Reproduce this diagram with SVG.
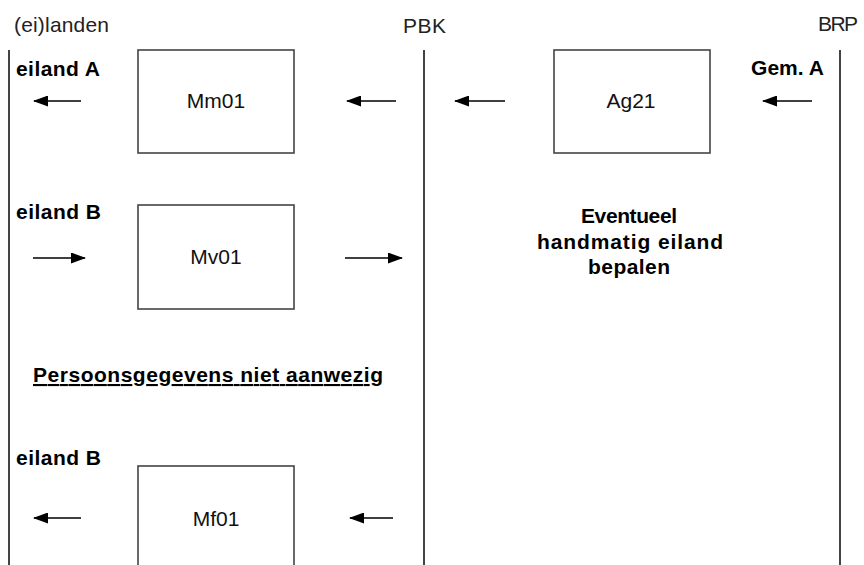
<svg xmlns="http://www.w3.org/2000/svg" width="864" height="565" viewBox="0 0 864 565">
<defs>
<style>
.lane{stroke:#444;stroke-width:2;fill:none}
.box{fill:#fff;stroke:#444;stroke-width:1.6}
.hdr{font-family:"Liberation Sans",Arial,sans-serif;font-size:21px;fill:#222}
.lbl{font-family:"Liberation Sans",Arial,sans-serif;font-size:21px;fill:#111}
.bold{font-family:"Liberation Sans",Arial,sans-serif;font-size:21px;font-weight:bold;fill:#000}
.arr{stroke:#000;stroke-width:1.6;fill:none;marker-end:url(#ah)}
</style>
<marker id="ah" viewBox="0 0 15 11" refX="14" refY="5.5" markerWidth="15" markerHeight="11" markerUnits="userSpaceOnUse" orient="auto">
<path d="M0,0 L15,5.5 L0,11 Z" fill="#000"/>
</marker>
</defs>
<rect width="864" height="565" fill="#fff"/>
<g id="lanes">
<line class="lane" x1="9" y1="50" x2="9" y2="565"/>
<line class="lane" x1="424" y1="50" x2="424" y2="565"/>
<line class="lane" x1="840" y1="50" x2="840" y2="565"/>
<text class="hdr" x="14" y="32" textLength="95" lengthAdjust="spacing">(ei)landen</text>
<text class="hdr" x="403" y="33" textLength="43" lengthAdjust="spacing">PBK</text>
<text class="hdr" x="818" y="31" textLength="40" lengthAdjust="spacing">BRP</text>
</g>
<g id="labels">
<text class="bold" x="16" y="76" textLength="84" lengthAdjust="spacing">eiland A</text>
<text class="bold" x="751" y="75" textLength="73" lengthAdjust="spacing">Gem. A</text>
<text class="bold" x="16" y="219" textLength="85" lengthAdjust="spacing">eiland B</text>
<text class="bold" x="16" y="465" textLength="85" lengthAdjust="spacing">eiland B</text>
<text class="bold" x="33" y="382" textLength="350" lengthAdjust="spacing" text-decoration="underline">Persoonsgegevens niet aanwezig</text>
<text class="bold" x="629" y="223" text-anchor="middle" textLength="96" lengthAdjust="spacing">Eventueel</text>
<text class="bold" x="630" y="249" text-anchor="middle" textLength="186" lengthAdjust="spacing">handmatig eiland</text>
<text class="bold" x="629" y="274" text-anchor="middle" textLength="82" lengthAdjust="spacing">bepalen</text>
</g>
<g id="node-Mm01">
<rect class="box" x="138" y="50" width="156" height="103"/>
<text class="lbl" x="216" y="108" text-anchor="middle">Mm01</text>
</g>
<g id="node-Ag21">
<rect class="box" x="554" y="50" width="156" height="103"/>
<text class="lbl" x="631" y="108" text-anchor="middle">Ag21</text>
</g>
<g id="node-Mv01">
<rect class="box" x="138" y="205" width="156" height="104"/>
<text class="lbl" x="216" y="264" text-anchor="middle">Mv01</text>
</g>
<g id="node-Mf01">
<rect class="box" x="138" y="466" width="156" height="105"/>
<text class="lbl" x="216" y="526" text-anchor="middle">Mf01</text>
</g>
<g id="connectors">
<line class="arr" x1="81" y1="101" x2="34" y2="101"/>
<line class="arr" x1="396" y1="101" x2="347" y2="101"/>
<line class="arr" x1="505" y1="101" x2="455" y2="101"/>
<line class="arr" x1="812" y1="101" x2="763" y2="101"/>
<line class="arr" x1="33" y1="258" x2="85" y2="258"/>
<line class="arr" x1="345" y1="258" x2="402" y2="258"/>
<line class="arr" x1="81" y1="518" x2="34" y2="518"/>
<line class="arr" x1="393" y1="518" x2="350" y2="518"/>
</g>
</svg>
